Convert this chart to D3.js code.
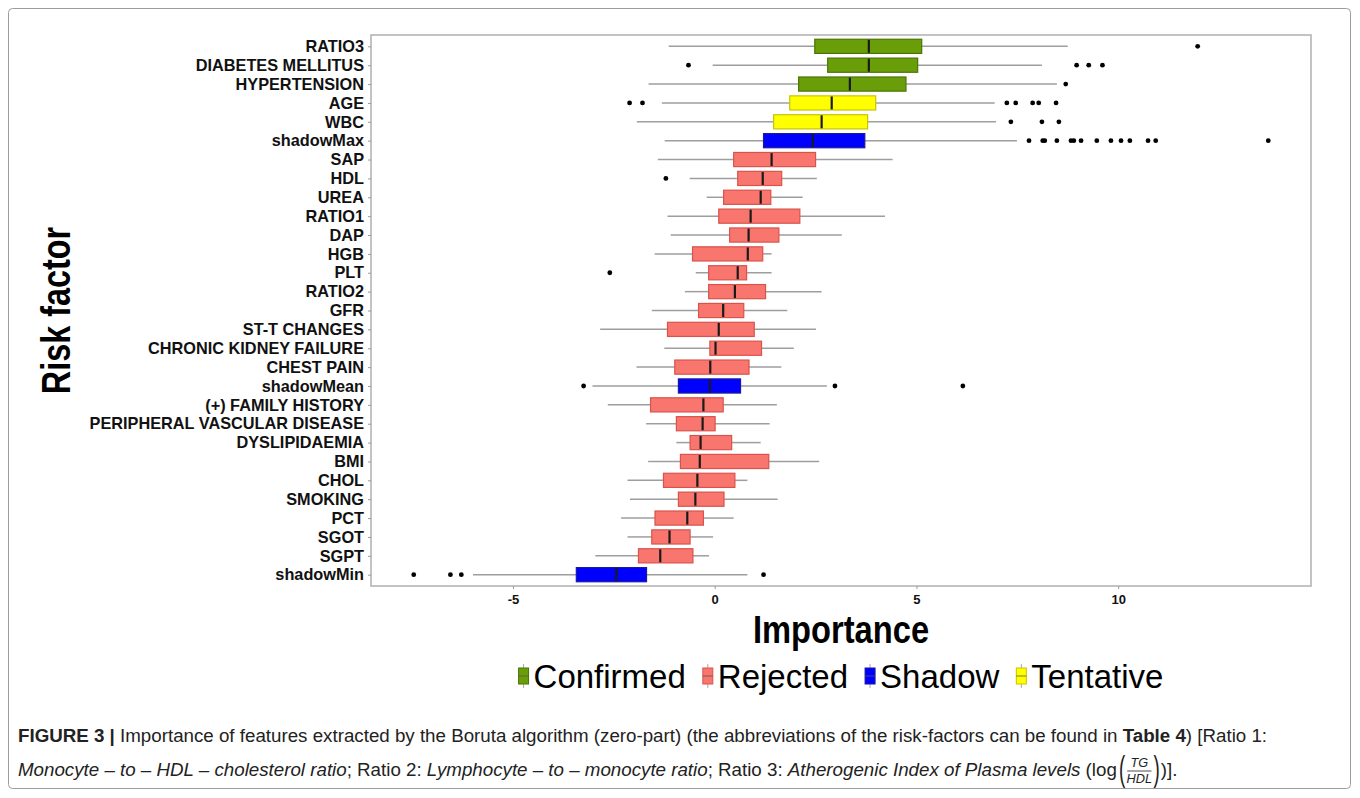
<!DOCTYPE html>
<html>
<head>
<meta charset="utf-8">
<script src="https://cdn.jsdelivr.net/npm/d3@7"></script>
<style>
  body { margin: 0; background: #fff; }
  text { font-family: "Liberation Sans", Arial, Helvetica, sans-serif; }
</style>
</head>
<body>
<svg id="chart" width="1360" height="798"></svg>
<script>
// Boruta feature importance: one box per risk factor, top to bottom
const factors = ["RATIO3", "DIABETES MELLITUS", "HYPERTENSION", "AGE", "WBC", "shadowMax",
  "SAP", "HDL", "UREA", "RATIO1", "DAP", "HGB", "PLT", "RATIO2", "GFR", "ST-T CHANGES",
  "CHRONIC KIDNEY FAILURE", "CHEST PAIN", "shadowMean", "(+) FAMILY HISTORY",
  "PERIPHERAL VASCULAR DISEASE", "DYSLIPIDAEMIA", "BMI", "CHOL", "SMOKING", "PCT",
  "SGOT", "SGPT", "shadowMin"];

const decision = ["Confirmed", "Confirmed", "Confirmed", "Tentative", "Tentative", "Shadow",
  "Rejected", "Rejected", "Rejected", "Rejected", "Rejected", "Rejected", "Rejected",
  "Rejected", "Rejected", "Rejected", "Rejected", "Rejected", "Shadow", "Rejected",
  "Rejected", "Rejected", "Rejected", "Rejected", "Rejected", "Rejected", "Rejected",
  "Rejected", "Shadow"];

const whiskerLow = [-1.14, -0.05, -1.64, -1.31, -1.93, -1.24, -1.41, -0.62, -0.20, -1.17,
  -1.09, -1.49, -0.47, -0.74, -1.56, -2.84, -1.25, -1.94, -3.03, -2.65, -1.70, -0.95,
  -1.65, -2.16, -2.10, -2.32, -2.16, -2.96, -5.99];
const lowerQuartile = [2.48, 2.80, 2.08, 1.86, 1.46, 1.21, 0.47, 0.57, 0.22, 0.10, 0.37,
  -0.55, -0.15, -0.15, -0.40, -1.17, -0.12, -0.99, -0.90, -1.59, -0.95, -0.61, -0.85,
  -1.27, -0.90, -1.48, -1.56, -1.89, -3.43];
const medianImp = [3.82, 3.82, 3.35, 2.90, 2.65, 2.43, 1.41, 1.19, 1.14, 0.89, 0.84, 0.82,
  0.57, 0.50, 0.21, 0.10, 0.02, -0.11, -0.12, -0.28, -0.30, -0.35, -0.37, -0.43, -0.48,
  -0.68, -1.12, -1.35, -2.44];
const upperQuartile = [5.13, 5.03, 4.74, 3.99, 3.79, 3.72, 2.50, 1.66, 1.39, 2.11, 1.59,
  1.19, 0.79, 1.26, 0.72, 0.98, 1.16, 0.85, 0.64, 0.21, 0.01, 0.42, 1.34, 0.50, 0.23,
  -0.28, -0.61, -0.54, -1.69];
const whiskerHigh = [8.75, 8.11, 8.48, 6.94, 6.97, 7.49, 4.41, 2.53, 2.18, 4.22, 3.15, 1.41,
  1.41, 2.65, 1.80, 2.51, 1.96, 1.65, 2.78, 1.54, 1.36, 1.14, 2.59, 0.81, 1.56, 0.47,
  -0.04, -0.14, 0.81];
const outliers = [
  [11.97],
  [-0.65, 8.97, 9.27, 9.61],
  [8.70],
  [-2.11, -1.79, 7.24, 7.46, 7.88, 8.03, 8.46],
  [7.34, 8.11, 8.53],
  [7.79, 8.13, 8.18, 8.48, 8.83, 8.90, 9.08, 9.47, 9.82, 10.07, 10.29, 10.74, 10.93, 13.72],
  [], [-1.21], [], [], [], [], [-2.60], [], [], [], [], [],
  [-3.25, 2.98, 6.15],
  [], [], [], [], [], [], [], [], [],
  [-7.46, -6.55, -6.28, 1.21]
];

const xTicks = [-5, 0, 5, 10];
const legendLabels = ["Confirmed", "Rejected", "Shadow", "Tentative"];

const fillOf = { Confirmed: "#6a9e08", Rejected: "#f8766d", Shadow: "#0000ff", Tentative: "#ffff00" };
const edgeOf = { Confirmed: "#4a7404", Rejected: "#d9534c", Shadow: "#1a1a9a", Tentative: "#c9c400" };

const rows = factors.map((f, i) => ({
  name: f, status: decision[i], lo: whiskerLow[i], q1: lowerQuartile[i], med: medianImp[i],
  q3: upperQuartile[i], hi: whiskerHigh[i], out: outliers[i]
}));

const svg = d3.select("#chart");
const panel = { left: 371, right: 1311, top: 35, bottom: 586 };

// Figure frame
svg.append("rect").attr("x", 8.5).attr("y", 8.5).attr("width", 1342).attr("height", 780)
  .attr("rx", 4).attr("fill", "none").attr("stroke", "#9c9c9c").attr("stroke-width", 1);

const allVals = rows.flatMap(r => [r.lo, r.hi, ...r.out]);
const xMin = d3.min(allVals), xMax = d3.max(allVals), pad = (xMax - xMin) * 0.05;
const x = d3.scaleLinear().domain([xMin - pad, xMax + pad]).range([panel.left, panel.right]);
const y = d3.scalePoint().domain(factors).range([panel.top, panel.bottom]).padding(0.6);
const boxH = y.step() * 0.75;

// Panel border
svg.append("rect").attr("x", panel.left).attr("y", panel.top)
  .attr("width", panel.right - panel.left).attr("height", panel.bottom - panel.top)
  .attr("fill", "#fff").attr("stroke", "#b5b5b5").attr("stroke-width", 1.6);

// Axes
const yAxis = svg.append("g").attr("transform", `translate(${panel.left},0)`)
  .call(d3.axisLeft(y).tickSize(3).tickPadding(4));
yAxis.select(".domain").remove();
yAxis.selectAll("line").attr("stroke", "#9a9a9a");
yAxis.selectAll("text").attr("font-size", 16.3).attr("font-weight", "bold").attr("fill", "#111")
  .style("font-family", '"Liberation Sans", Arial, sans-serif');

const xAxis = svg.append("g").attr("transform", `translate(0,${panel.bottom})`)
  .call(d3.axisBottom(x).tickValues(xTicks).tickSize(3).tickPadding(6).tickFormat(d => String(d)));
xAxis.select(".domain").remove();
xAxis.selectAll("line").attr("stroke", "#9a9a9a");
xAxis.selectAll("text").attr("font-size", 13).attr("font-weight", "bold").attr("fill", "#111")
  .style("font-family", '"Liberation Sans", Arial, sans-serif');

// Boxplots
const g = svg.append("g");
const box = g.selectAll("g.box").data(rows).join("g").attr("class", "box")
  .attr("transform", d => `translate(0,${y(d.name)})`);

box.append("line").attr("x1", d => x(d.lo)).attr("x2", d => x(d.q1))
  .attr("stroke", "#9e9e9e").attr("stroke-width", 1.5);
box.append("line").attr("x1", d => x(d.q3)).attr("x2", d => x(d.hi))
  .attr("stroke", "#9e9e9e").attr("stroke-width", 1.5);
box.append("rect").attr("x", d => x(d.q1)).attr("y", -boxH / 2)
  .attr("width", d => x(d.q3) - x(d.q1)).attr("height", boxH)
  .attr("fill", d => fillOf[d.status]).attr("stroke", d => edgeOf[d.status]).attr("stroke-width", 1.2);
box.append("line").attr("x1", d => x(d.med)).attr("x2", d => x(d.med))
  .attr("y1", -boxH / 2 + 0.6).attr("y2", boxH / 2 - 0.6)
  .attr("stroke", "#1a1a1a").attr("stroke-width", 2.2);
box.selectAll("circle").data(d => d.out).join("circle")
  .attr("cx", d => x(d)).attr("cy", 0).attr("r", 2.4).attr("fill", "#000");

// Axis titles (tall, narrow bold lettering)
svg.append("text").attr("transform", `translate(${(panel.left + panel.right) / 2},643) scale(0.86,1.03)`)
  .attr("text-anchor", "middle").attr("font-size", 38).attr("font-weight", "bold")
  .text("Importance");
svg.append("text").attr("transform", `translate(70,${(panel.top + panel.bottom) / 2}) rotate(-90) scale(0.81,1)`)
  .attr("text-anchor", "middle").attr("font-size", 40).attr("font-weight", "bold")
  .text("Risk factor");

// Legend
const legend = svg.append("g");
let cursor = 0;
legendLabels.forEach(label => {
  const item = legend.append("g").attr("transform", `translate(${cursor},0)`);
  item.append("line").attr("x1", 5).attr("x2", 5).attr("y1", -12).attr("y2", 12)
    .attr("stroke", "#a8a8a8").attr("stroke-width", 1);
  item.append("rect").attr("x", 0).attr("y", -8).attr("width", 10).attr("height", 16)
    .attr("fill", fillOf[label]).attr("stroke", edgeOf[label]).attr("stroke-width", 1);
  item.append("line").attr("x1", 0).attr("x2", 10).attr("y1", 0).attr("y2", 0)
    .attr("stroke", "#555").attr("stroke-width", 0.8);
  const t = item.append("text").attr("x", 15).attr("y", 12).attr("font-size", 33).text(label);
  cursor += 15 + t.node().getComputedTextLength() + 17;
});
const legendW = cursor - 17;
legend.attr("transform", `translate(${(panel.left + panel.right) / 2 - legendW / 2},676)`);

// Caption, set in a condensed face
const capSize = 18.5;
const cap = svg.append("g");
const line1 = cap.append("text").attr("font-size", capSize).attr("fill", "#222");
line1.append("tspan").attr("font-weight", "bold").text("FIGURE 3 |");
line1.append("tspan").text(" Importance of features extracted by the Boruta algorithm (zero-part) (the abbreviations of the risk-factors can be found in ");
line1.append("tspan").attr("font-weight", "bold").text("Table 4");
line1.append("tspan").text(") [Ratio 1:");
const sx = 1250 / line1.node().getComputedTextLength();
line1.attr("transform", `translate(18,742) scale(${sx},1)`);

const line2g = cap.append("g").attr("transform", `translate(18,776) scale(${sx},1)`);
const line2 = line2g.append("text").attr("font-size", capSize).attr("fill", "#222");
line2.append("tspan").attr("font-style", "italic").text("Monocyte – to – HDL – cholesterol ratio");
line2.append("tspan").text("; Ratio 2: ");
line2.append("tspan").attr("font-style", "italic").text("Lymphocyte – to – monocyte ratio");
line2.append("tspan").text("; Ratio 3: ");
line2.append("tspan").attr("font-style", "italic").text("Atherogenic Index of Plasma levels");
line2.append("tspan").text(" (log ");
let ex = line2.node().getComputedTextLength() + 2;
const bigParen = (ch, px) => line2g.append("text")
  .attr("transform", `translate(${px},5) scale(1,1.9)`).attr("font-size", capSize).attr("fill", "#222").text(ch);
const p1 = bigParen("(", ex);
ex += p1.node().getComputedTextLength() + 2;
const fracW = 24;
line2g.append("text").attr("x", ex + fracW / 2).attr("y", -9).attr("text-anchor", "middle")
  .attr("font-size", capSize * 0.68).attr("font-style", "italic").attr("fill", "#222").text("TG");
line2g.append("line").attr("x1", ex).attr("x2", ex + fracW).attr("y1", -5).attr("y2", -5)
  .attr("stroke", "#222").attr("stroke-width", 0.8);
line2g.append("text").attr("x", ex + fracW / 2).attr("y", 7).attr("text-anchor", "middle")
  .attr("font-size", capSize * 0.68).attr("font-style", "italic").attr("fill", "#222").text("HDL");
ex += fracW + 2;
const p2 = bigParen(")", ex);
ex += p2.node().getComputedTextLength() + 1;
line2g.append("text").attr("x", ex).attr("y", 0).attr("font-size", capSize)
  .attr("fill", "#222").text(")].");
</script>
</body>
</html>
